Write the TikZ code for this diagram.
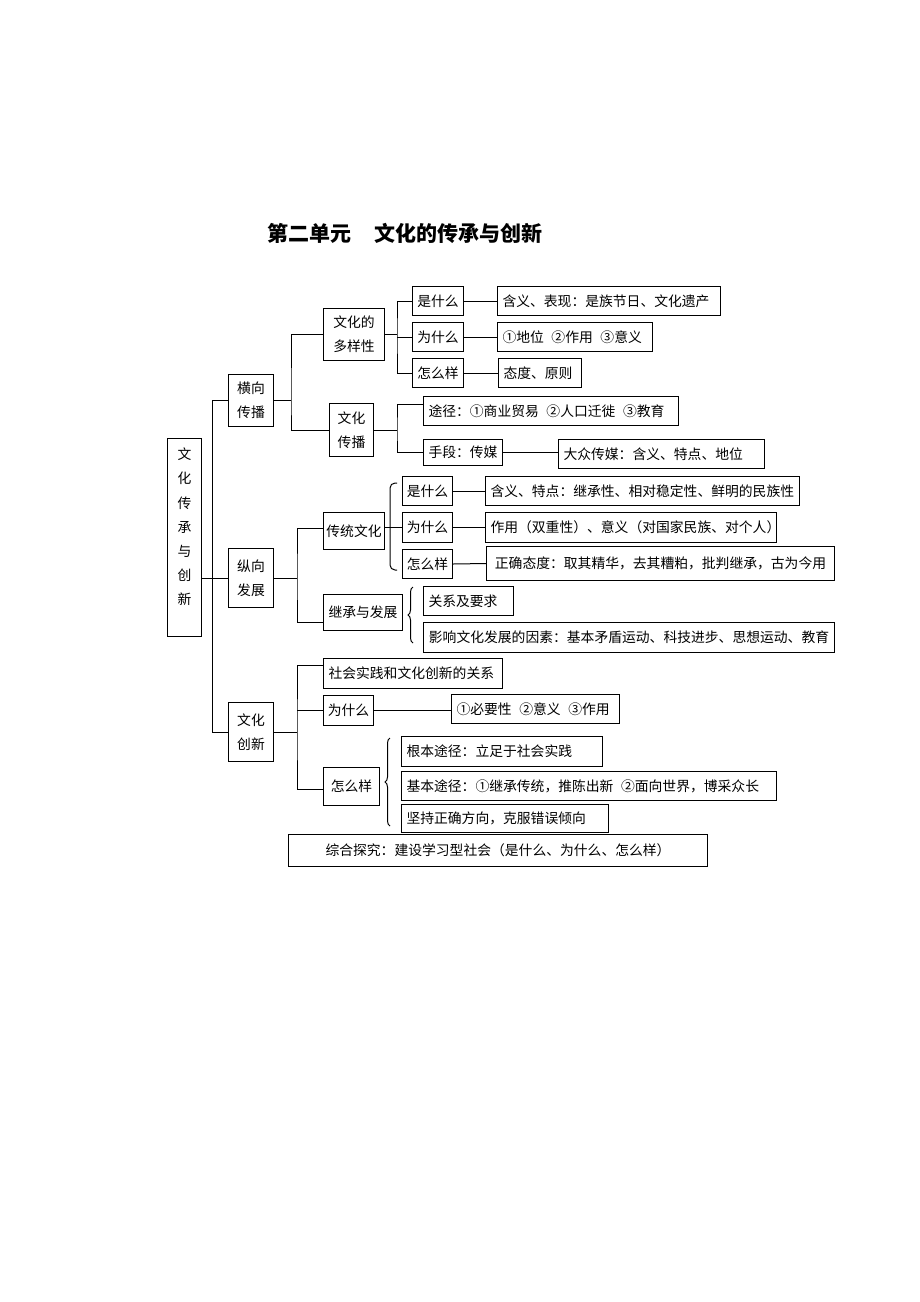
\documentclass[tikz,border=0pt]{standalone}
\usepackage{fontspec}
\setmainfont{Noto Sans CJK SC}
\usetikzlibrary{calc,decorations.pathreplacing}
\def\gap{\hspace{0.55em}}

\begin{document}
\begin{tikzpicture}[x=1pt, y=-1pt, line width=1pt,
		font=\fontsize{13.8pt}{24pt}\selectfont,
		tbox/.style={draw, anchor=north west, align=left, inner xsep=5pt, inner ysep=0pt},
		cbox/.style={draw, anchor=north west, align=center, inner sep=0pt},
		lbrace/.style={decorate, decoration={brace, amplitude=5pt}}]
			%%%%% START %%%%%
			
			\useasboundingbox (0, 0) rectangle (920, 1302);
			
			\node[font=\fontsize{21pt}{21pt}\selectfont\bfseries] (bt) at (405, 233) {第二单元\hspace{1.1em}文化的传承与创新};
			
			\node[cbox, minimum width=34pt, minimum height=198pt, text depth=22pt, font=\fontsize{13.8pt}{24.2pt}\selectfont] (wh) at (167, 438) {文\\化\\传\\承\\与\\创\\新};
			
			\node[cbox, minimum width=45pt, minimum height=52pt] (hx) at (228, 374) {横向\\传播};
			\node[cbox, minimum width=45pt, minimum height=59pt] (zx) at (228, 548) {纵向\\发展};
			\node[cbox, minimum width=45pt, minimum height=59pt] (cx) at (228, 702) {文化\\创新};
			
			\node[cbox, minimum width=61pt, minimum height=52pt] (dy) at (323, 308) {文化的\\多样性};
			\node[cbox, minimum width=51pt, minimum height=29pt] (s1) at (412, 286) {是什么};
			\node[cbox, minimum width=51pt, minimum height=29pt] (w1) at (412, 322) {为什么};
			\node[cbox, minimum width=51pt, minimum height=29pt] (z1) at (412, 358) {怎么样};
			\node[tbox, text width=213pt, minimum height=29pt] (s1a) at (497, 286) {含义、表现：是族节日、文化遗产};
			\node[tbox, text width=145pt, minimum height=29pt] (w1a) at (497, 322) {①地位\gap②作用\gap③意义};
			\node[tbox, text width=73pt, minimum height=29pt] (z1a) at (498, 358) {态度、原则};
			
			\node[cbox, minimum width=44pt, minimum height=53pt] (wc) at (329, 403) {文化\\传播};
			\node[tbox, text width=245pt, minimum height=29pt] (tj) at (423, 396) {途径：①商业贸易\gap②人口迁徙\gap③教育};
			\node[cbox, minimum width=79pt, minimum height=26pt] (sd) at (423, 439) {手段：传媒};
			\node[tbox, text width=196pt, minimum height=29pt] (dz) at (558, 439) {大众传媒：含义、特点、地位};
			
			\node[cbox, minimum width=61pt, minimum height=37pt] (ct) at (323, 512) {传统文化};
			\node[cbox, minimum width=50pt, minimum height=29pt] (s2) at (402, 476) {是什么};
			\node[cbox, minimum width=50pt, minimum height=30pt] (w2) at (402, 512) {为什么};
			\node[cbox, minimum width=50pt, minimum height=29pt] (z2) at (402, 549) {怎么样};
			\node[tbox, text width=304pt, minimum height=29pt] (s2a) at (485, 476) {含义、特点：继承性、相对稳定性、鲜明的民族性};
			\node[tbox, text width=281pt, minimum height=30pt] (w2a) at (485, 512) {作用（双重性）、意义（对国家民族、对个人）};
			\node[cbox, minimum width=348pt, minimum height=34pt] (z2a) at (486, 546) {正确态度：取其精华，去其糟粕，批判继承，古为今用};
			
			\node[cbox, minimum width=79pt, minimum height=36pt] (jc) at (323, 594) {继承与发展};
			\node[tbox, text width=80pt, minimum height=29pt] (gx) at (423, 586) {关系及要求};
			\node[cbox, minimum width=411pt, minimum height=30pt] (yx) at (423, 622) {影响文化发展的因素：基本矛盾运动、科技进步、思想运动、教育};
			
			\node[tbox, text width=169pt, minimum height=30pt] (sj) at (323, 658) {社会实践和文化创新的关系};
			\node[cbox, minimum width=50pt, minimum height=30pt] (w3) at (323, 695) {为什么};
			\node[tbox, text width=158pt, minimum height=29pt] (by) at (451, 694) {①必要性\gap②意义\gap③作用};
			\node[cbox, minimum width=56pt, minimum height=38pt] (z3) at (323, 767) {怎么样};
			\node[tbox, text width=191pt, minimum height=30pt] (gb) at (401, 736) {根本途径：立足于社会实践};
			\node[tbox, text width=365pt, minimum height=29pt] (jb) at (401, 771) {基本途径：①继承传统，推陈出新\gap②面向世界，博采众长};
			\node[tbox, text width=197pt, minimum height=28pt] (jz) at (401, 804) {坚持正确方向，克服错误倾向};
			
			\node[cbox, minimum width=419pt, minimum height=32pt] (zh) at (288, 834) {综合探究：建设学习型社会（是什么、为什么、怎么样）};
			
			% trunk
			\draw (zx.west) -- (zx.west -| wh.east);
			\draw (hx.west) -- ++(-16, 0) |- (cx.west);
			
			% 横向传播
			\draw (hx.east) -- ++(17, 0) coordinate (hb);
			\draw (dy.west) -| (hb) |- (wc.west);
			\draw (dy.east) -- ++(12, 0) coordinate (db);
			\draw (s1.west) -| (db) |- (z1.west);
			\draw (w1.west) -- (w1.west -| db);
			\draw (s1.east) -- (s1a.west);
			\draw (w1.east) -- (w1a.west);
			\draw (z1.east) -- (z1a.west);
			\draw (wc.east) -- ++(23, 0) coordinate (wb);
			\draw ([yshift=7pt]tj.west) -| (wb) |- (sd.west);
			\draw (sd.east) -- (sd.east -| dz.west);
			
			% 纵向发展
			\draw (zx.east) -- ++(23, 0) coordinate (zb);
			\draw ([yshift=3pt]ct.west) -| (zb) |- ([yshift=-10pt]jc.west);
			\draw (w2.west) -- (w2.west -| ct.east);
			\draw[rounded corners=5pt] (397, 483) -- (390, 483) -- (390, 570) -- (397, 570);
			\draw (s2.east) -- (s2a.west);
			\draw (w2.east) -- (w2a.west);
			\draw (z2.east) -- (z2a.west);
			\draw[lbrace] (413, 643) -- (413, 587);
			
			% 文化创新
			\draw (cx.east) -- ++(23, 0) coordinate (cb);
			\draw ([yshift=8pt]sj.west) -| (cb) |- ([yshift=-3pt]z3.west);
			\draw (w3.west) -- (w3.west -| cb);
			\draw (w3.east) -- (w3.east -| by.west);
			\draw[lbrace] (390, 826) -- (390, 738);
			
			%%%%% END %%%%%
\end{tikzpicture}
\end{document}
